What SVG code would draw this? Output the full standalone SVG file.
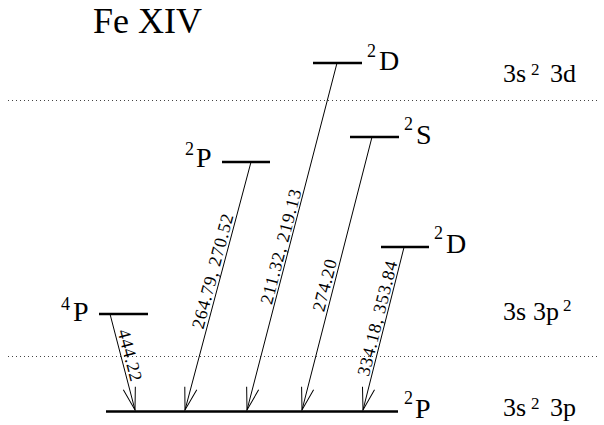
<svg xmlns="http://www.w3.org/2000/svg" width="604" height="425" viewBox="0 0 604 425" font-family="Liberation Serif, Times New Roman, serif">
<style>
.title{font-size:36px}
.lab{font-size:28px}
.sup{font-size:18px}
.cfg{font-size:26px}
.csup{font-size:17px}
.wl{font-size:18px;text-anchor:middle}
.lvl{stroke:#000;stroke-width:2.5;fill:none}
.dot{stroke:#444;stroke-width:1;stroke-dasharray:1 3;fill:none}
.arr{stroke:#000;stroke-width:1;fill:none;marker-end:url(#ah)}
</style>
<defs>
<marker id="ah" markerUnits="userSpaceOnUse" markerWidth="26" markerHeight="16" refX="23" refY="8" orient="auto" overflow="visible">
<path d="M0.5,1.8 L23,8 L0.5,14.2" fill="none" stroke="#000" stroke-width="1"/>
</marker>
</defs>
<rect width="604" height="425" fill="#fff"/>
<text class="title" x="93" y="33">Fe XIV</text>
<g id="separators">
<line class="dot" x1="8" y1="100.5" x2="600" y2="100.5"/>
<line class="dot" x1="8" y1="356.5" x2="600" y2="356.5"/>
</g>
<g id="configs">
<text class="cfg" x="503" y="82">3s<tspan class="csup" x="531" y="75">2</tspan><tspan x="550" y="82">3d</tspan></text>
<text class="cfg" x="503" y="320">3s<tspan x="533">3p</tspan><tspan class="csup" x="563" y="311">2</tspan></text>
<text class="cfg" x="503" y="416">3s<tspan class="csup" x="531" y="409">2</tspan><tspan x="550" y="416">3p</tspan></text>
</g>
<g id="level-2D-upper">
<line class="lvl" x1="313" y1="63" x2="362" y2="63"/>
<text class="lab"><tspan class="sup" x="367" y="57">2</tspan><tspan x="379" y="70">D</tspan></text>
</g>
<g id="level-2S">
<line class="lvl" x1="350" y1="137" x2="399" y2="137"/>
<text class="lab"><tspan class="sup" x="404" y="130">2</tspan><tspan x="416" y="143.5">S</tspan></text>
</g>
<g id="level-2P-upper">
<line class="lvl" x1="222" y1="162" x2="270" y2="162"/>
<text class="lab"><tspan class="sup" x="185" y="155">2</tspan><tspan x="196" y="167">P</tspan></text>
</g>
<g id="level-2D-lower">
<line class="lvl" x1="381" y1="247" x2="429" y2="247"/>
<text class="lab"><tspan class="sup" x="434" y="239">2</tspan><tspan x="446" y="252.5">D</tspan></text>
</g>
<g id="level-4P">
<line class="lvl" x1="99" y1="314" x2="148" y2="314"/>
<text class="lab"><tspan class="sup" x="61" y="310">4</tspan><tspan x="73" y="320.5">P</tspan></text>
</g>
<g id="level-2P-ground">
<line class="lvl" x1="106" y1="411.5" x2="398" y2="411.5"/>
<text class="lab"><tspan class="sup" x="404" y="404">2</tspan><tspan x="415" y="417.5">P</tspan></text>
</g>
<g id="connectors">
<line class="arr" x1="110" y1="314" x2="135" y2="410"/>
<text class="wl" transform="translate(121.3,357.4) rotate(75.4)" x="0" y="-3" textLength="53" lengthAdjust="spacing">444.22</text>
<line class="arr" x1="251" y1="162" x2="185" y2="410"/>
<text class="wl" transform="translate(221.3,273.5) rotate(-75.1)" x="0" y="-3" textLength="118" lengthAdjust="spacing">264.79, 270.52</text>
<line class="arr" x1="337" y1="63" x2="247" y2="410"/>
<text class="wl" transform="translate(289.5,249) rotate(-75.46)" x="0" y="-3" textLength="118" lengthAdjust="spacing">211.32, 219.13</text>
<line class="arr" x1="372" y1="137" x2="302" y2="410"/>
<text class="wl" transform="translate(333.4,287.5) rotate(-75.6)" x="0" y="-3" textLength="53" lengthAdjust="spacing">274.20</text>
<line class="arr" x1="404" y1="247.3" x2="363" y2="410"/>
<text class="wl" transform="translate(385.6,320.5) rotate(-75.9)" x="0" y="-2.5" textLength="118" lengthAdjust="spacing">334.18, 353.84</text>
</g>
</svg>
